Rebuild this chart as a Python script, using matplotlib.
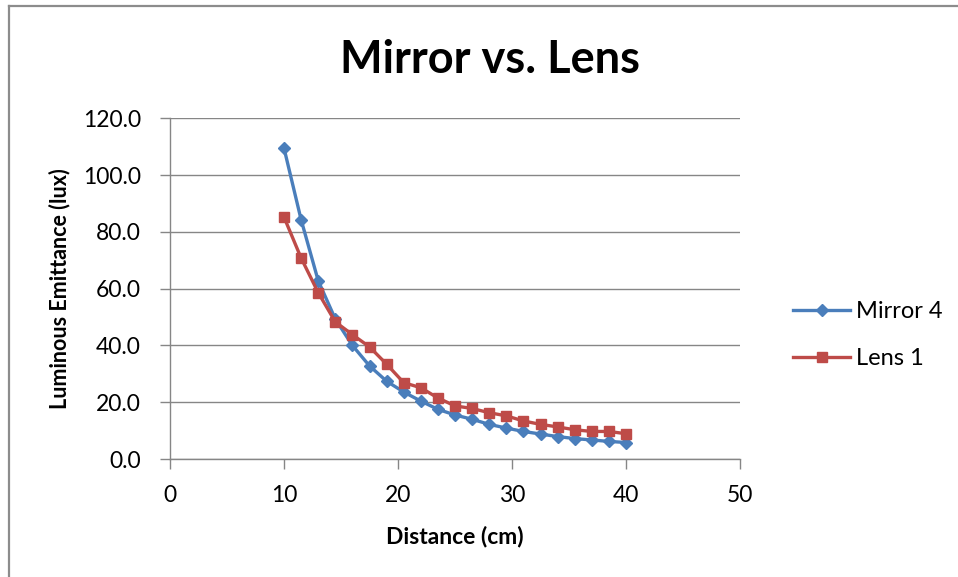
"""
Mirror vs. Lens - luminous emittance against distance
"""

import matplotlib
matplotlib.use("Agg")
import matplotlib.pyplot as plt
from matplotlib.lines import Line2D

# Data
distance = [10, 11.5, 13, 14.5, 16, 17.5, 19, 20.5, 22, 23.5, 25,
            26.5, 28, 29.5, 31, 32.5, 34, 35.5, 37, 38.5, 40]
mirror_4 = [109.5, 84.3, 62.8, 49.3, 40.0, 32.8, 27.4, 23.6, 20.4, 17.5, 15.5,
            14.0, 12.2, 10.9, 9.7, 8.8, 7.9, 7.2, 6.7, 6.2, 5.8]
lens_1 = [85.2, 70.8, 58.6, 48.3, 43.8, 39.5, 33.4, 26.9, 25.1, 21.5, 18.7,
          17.8, 16.3, 15.2, 13.4, 12.2, 11.3, 10.3, 9.7, 9.7, 8.9]

x_ticks = [0, 10, 20, 30, 40, 50]
y_ticks = [0, 20, 40, 60, 80, 100, 120]

plt.rcParams['font.family'] = ['Lato', 'DejaVu Sans']

W, H = 958, 577
fig = plt.figure(figsize=(W / 100, H / 100), dpi=100)
ax = fig.add_axes([170 / W, 1 - 459 / H, 570 / W, (459 - 118.3) / H])

grid_col = '#868686'
blue = '#4A7EBB'
red = '#BE4B48'

ax.plot(distance, mirror_4, color=blue, lw=2.4, marker='D', markersize=6,
        label='Mirror 4', zorder=3)
ax.plot(distance, lens_1, color=red, lw=2.4, marker='s', markersize=7.5,
        label='Lens 1', zorder=3)

ax.set_xlim(0, 50)
ax.set_ylim(0, 120)
ax.set_xticks(x_ticks)
ax.set_yticks(y_ticks)
ax.set_yticklabels([f'{v:.1f}' for v in y_ticks])
ax.grid(axis='y', color=grid_col, lw=1.0)
ax.set_axisbelow(True)

for side in ['top', 'right']:
    ax.spines[side].set_visible(False)
for side in ['left', 'bottom']:
    ax.spines[side].set_color(grid_col)
    ax.spines[side].set_linewidth(1.0)
ax.tick_params(axis='both', colors=grid_col, labelcolor='black',
               labelsize=16.5, length=7, width=1.0)
ax.tick_params(axis='y', pad=14)
ax.tick_params(axis='x', pad=12)

ax.set_xlabel('Distance (cm)', fontsize=16.5, fontweight='bold', labelpad=14)
ax.set_ylabel('Luminous Emittance (lux)', fontsize=15.5, fontweight='bold',
              labelpad=9)

fig.text(490 / W, 1 - 60 / H, 'Mirror vs. Lens', fontsize=32.5,
         fontweight='bold', ha='center', va='center')

ax.legend(loc='center left', bbox_to_anchor=(772 / W, 1 - 335 / H),
          bbox_transform=fig.transFigure, frameon=False, fontsize=17,
          handlelength=2.4, labelspacing=1.1, handletextpad=0.25)

# outer chart border (left and top edges visible)
fig.add_artist(Line2D([9 / W, 9 / W], [0, 1 - 5.5 / H],
                      transform=fig.transFigure, color='#8C8C8C', lw=1.6))
fig.add_artist(Line2D([9 / W, 1], [1 - 5.5 / H, 1 - 5.5 / H],
                      transform=fig.transFigure, color='#8C8C8C', lw=1.6))

fig.savefig('out.png', dpi=100)
